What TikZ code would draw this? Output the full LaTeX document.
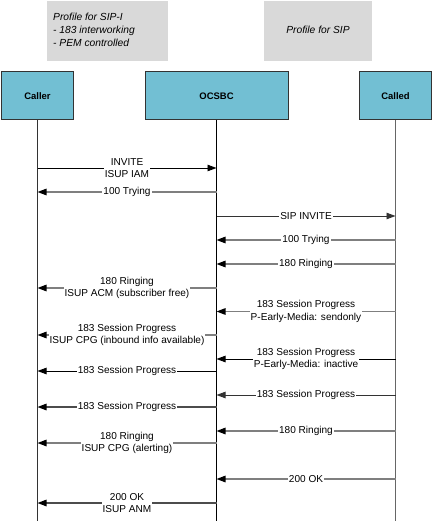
\documentclass[tikz,border=0pt]{standalone}
\usepackage{fontspec}
\setmainfont{Liberation Sans}
\usetikzlibrary{arrows.meta}
\definecolor{hdrfill}{HTML}{72BFD3}
\definecolor{notefill}{HTML}{D9D9D9}
\definecolor{msggray}{HTML}{7F7F7F}
\definecolor{hdrline}{HTML}{333333}
\tikzset{
  hdr/.style={draw=hdrline, line width=1bp, fill=hdrfill, font=\fontsize{9.5}{11}\selectfont\bfseries, inner sep=0pt},
  note/.style={fill=notefill, inner sep=0pt},
  notetext/.style={font=\fontsize{10.3}{13}\selectfont\itshape, align=left, inner sep=0pt},
  life/.style={line width=1bp},
  msgk/.style={line width=0.9bp, draw=black, -{Triangle[length=9bp,width=6.5bp]}},
  msgg/.style={line width=1.3bp, draw=msggray, -{Triangle[length=9bp,width=6.5bp,fill=black,color=black]}},
  lbl/.style={fill=white, font=\fontsize{10.1}{12.5}\selectfont, align=center, inner xsep=1bp, inner ysep=0.3bp, text=black}
}
\begin{document}
\begin{tikzpicture}[x=1bp,y=-1bp]
\useasboundingbox (0,0) rectangle (433,521);
% notes
\node[note, minimum width=121bp, minimum height=60bp] (noteL) at (107.5,31) {};
\node[notetext, anchor=west] (noteLt) at (53,30) {Profile for SIP-I\\- 183 interworking\\- PEM controlled};
\node[note, minimum width=108bp, minimum height=60bp] (noteR) at (318,31) {};
\node[notetext] (noteRt) at (318,30) {Profile for SIP};
% headers
\node[hdr, minimum width=71bp, minimum height=48bp] (caller) at (37.5,96) {Caller};
\node[hdr, minimum width=143bp, minimum height=48bp] (ocsbc) at (216.5,96) {OCSBC};
\node[hdr, minimum width=72bp, minimum height=48bp] (called) at (395.5,96) {Called};
% lifelines
\coordinate (callerEnd) at (37.5,521);
\coordinate (ocsbcEnd) at (216.5,521);
\coordinate (calledEnd) at (395.5,521);
\draw[life, draw=hdrline] (caller.south) -- (callerEnd);
\draw[life, draw=black] (ocsbc.south) -- (ocsbcEnd);
\draw[life, draw=gray!80!black] (called.south) -- (calledEnd);
% messages
\draw[msgk] (caller |- 0,168) -- node[lbl] (m1) {INVITE\\ISUP IAM} (ocsbc |- 0,168);
\draw[msgg] (ocsbc |- 0,192) -- node[lbl] (m2) {100 Trying} (caller |- 0,192);
\draw[msgk, draw=hdrline] (ocsbc |- 0,216) -- node[lbl] (m3) {SIP INVITE} (called |- 0,216);
\draw[msgg] (called |- 0,240) -- node[lbl] (m4) {100 Trying} (ocsbc |- 0,240);
\draw[msgg] (called |- 0,264) -- node[lbl] (m5) {180 Ringing} (ocsbc |- 0,264);
\draw[msgg] (ocsbc |- 0,288) -- node[lbl] (m6) {180 Ringing\\ISUP ACM (subscriber free)} (caller |- 0,288);
\draw[msgg] (called |- 0,311.5) -- node[lbl] (m7) {183 Session Progress\\P-Early-Media: sendonly} (ocsbc |- 0,311.5);
\draw[msgg] (ocsbc |- 0,335) -- node[lbl] (m8) {183 Session Progress\\ISUP CPG (inbound info available)} (caller |- 0,335);
\draw[msgk] (called |- 0,359) -- node[lbl] (m9) {183 Session Progress\\P-Early-Media: inactive} (ocsbc |- 0,359);
\draw[msgk] (ocsbc |- 0,371) -- node[lbl] (m10) {183 Session Progress} (caller |- 0,371);
\draw[msgk, draw=hdrline] (called |- 0,395) -- node[lbl] (m11) {183 Session Progress} (ocsbc |- 0,395);
\draw[msgg, draw=gray!60!black] (ocsbc |- 0,407) -- node[lbl] (m12) {183 Session Progress} (caller |- 0,407);
\draw[msgg] (called |- 0,431) -- node[lbl] (m13) {180 Ringing} (ocsbc |- 0,431);
\draw[msgg] (ocsbc |- 0,443) -- node[lbl] (m14) {180 Ringing\\ISUP CPG (alerting)} (caller |- 0,443);
\draw[msgg] (called |- 0,479) -- node[lbl] (m15) {200 OK} (ocsbc |- 0,479);
\draw[msgg, draw=gray!60!black] (ocsbc |- 0,503) -- node[lbl] (m16) {200 OK\\ISUP ANM} (caller |- 0,503);
\end{tikzpicture}
\end{document}
